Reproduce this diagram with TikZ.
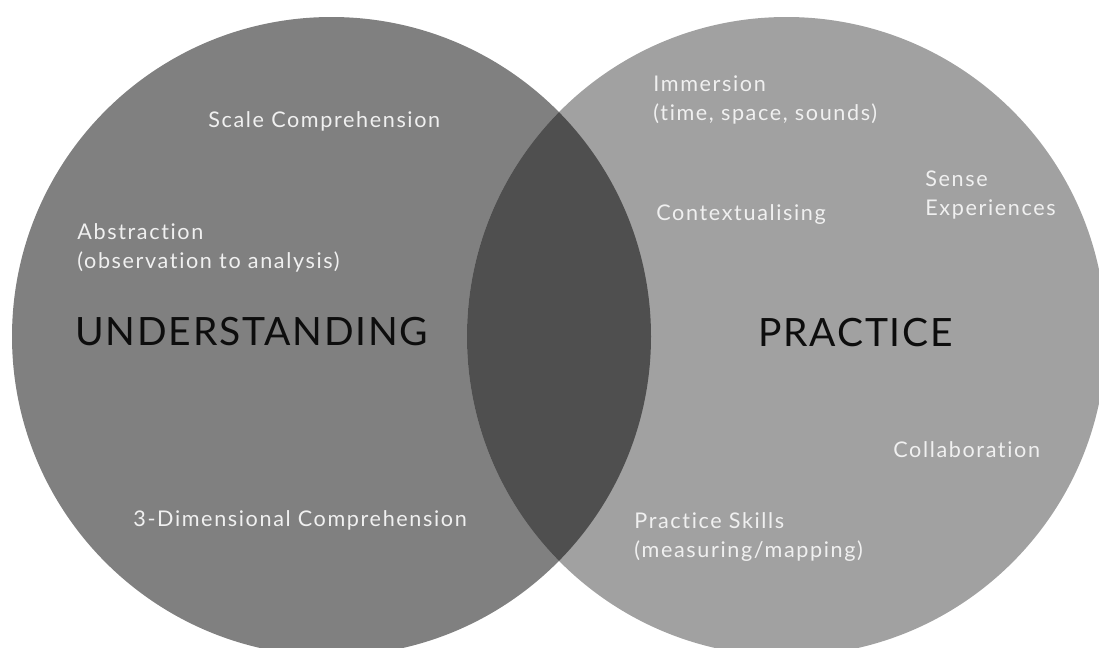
\documentclass[tikz,border=0pt]{standalone}
\usepackage{fontspec}
\newfontfamily\venn[Ligatures=NoCommon, LetterSpace=7.5]{Lato}
\newfontfamily\vennbig[Ligatures=NoCommon, LetterSpace=4.5]{Lato}

\begin{document}
\begin{tikzpicture}[x=0.5pt, y=-0.5pt,
  lbl/.style={anchor=base west, inner sep=0, align=left, text=white!94!black, font=\venn\fontsize{10.8}{14.5}\selectfont},
  big/.style={anchor=base west, inner sep=0, text=black!95, font=\vennbig\fontsize{19.5}{22}\selectfont}]
\useasboundingbox (0,0) rectangle (1099,648);
\clip (0,0) rectangle (1099,648);
\coordinate (cu) at (331.5,336.5);
\coordinate (cp) at (786.5,336.5);
\fill[black!50] (cu) circle (319.5);
\fill[black!37] (cp) circle (319.5);
% overlap
\begin{scope}
\clip (cu) circle (319.5);
\fill[black!69] (cp) circle (319.5);
\end{scope}
\node[big] (under) at (75,345) {UNDERSTANDING};
\node[big] (prac) at (758,346) {PRACTICE};
% two-line labels sit on the baseline of their last line
\node[lbl] (scale) at (208,127) {Scale Comprehension};
\node[lbl] (abstr) at (77,268) {Abstraction\\(observation to analysis)};
\node[lbl] (dim) at (133,526) {3-Dimensional Comprehension};
\node[lbl] (imm) at (653,120) {Immersion\\(time, space, sounds)};
\node[lbl] (ctx) at (656,220) {Contextualising};
\node[lbl] (sense) at (925,215) {Sense\\Experiences};
\node[lbl] (collab) at (893,457) {Collaboration};
\node[lbl] (skills) at (634,557) {Practice Skills\\(measuring/mapping)};
\end{tikzpicture}
\end{document}
